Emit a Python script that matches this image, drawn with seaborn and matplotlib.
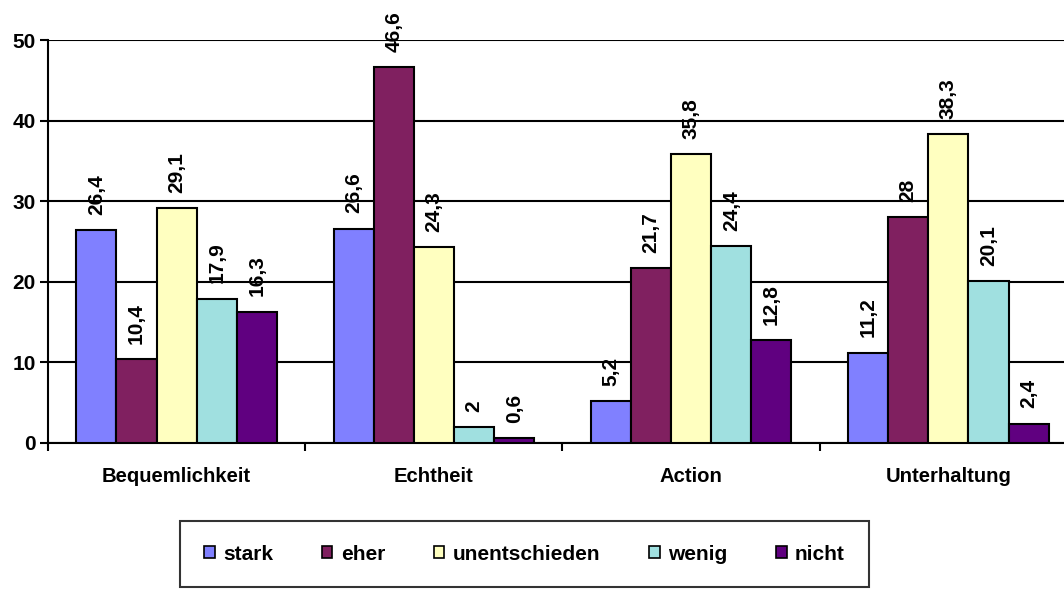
import matplotlib
matplotlib.use("Agg")
import matplotlib.pyplot as plt
import seaborn as sns
import pandas as pd
from matplotlib.patches import Patch

categories = ["Bequemlichkeit", "Echtheit", "Action", "Unterhaltung"]
series = ["stark", "eher", "unentschieden", "wenig", "nicht"]
stark = [26.4, 26.6, 5.2, 11.2]
eher = [10.4, 46.6, 21.7, 28.0]
unentschieden = [29.1, 24.3, 35.8, 38.3]
wenig = [17.9, 2.0, 24.4, 20.1]
nicht = [16.3, 0.6, 12.8, 2.4]
colors = ["#8080FF", "#802060", "#FFFFC0", "#A0E0E0", "#600080"]
yticks = [0, 10, 20, 30, 40, 50]

values = [stark, eher, unentschieden, wenig, nicht]
rows = []
for s, vals in zip(series, values):
    for c, v in zip(categories, vals):
        rows.append({"Kategorie": c, "Bewertung": s, "Wert": v})
df = pd.DataFrame(rows)

sns.set_theme(style="white")
plt.rcParams["font.family"] = ["Liberation Sans", "DejaVu Sans"]
plt.rcParams["font.weight"] = "bold"
for key in ["text.color", "axes.labelcolor", "xtick.color", "ytick.color"]:
    plt.rcParams[key] = "black"

fig = plt.figure(figsize=(10.64, 5.92), dpi=100)
ax = fig.add_axes([48 / 1064, 149 / 592, 1029 / 1064, 403 / 592])

sns.barplot(data=df, x="Kategorie", y="Wert", hue="Bewertung",
            order=categories, hue_order=series, palette=colors,
            width=0.78, gap=0, edgecolor="black", linewidth=1.5,
            saturation=1, legend=False, ax=ax, zorder=3)

ax.set_ylim(0, 50)
ax.set_xlim(-0.5, 3.5)
ax.set_yticks(yticks)
ax.set_yticklabels([str(t) for t in yticks], fontsize=15, fontweight="bold")
ax.yaxis.grid(True, color="black", linewidth=1.5, zorder=0)
ax.set_axisbelow(True)
ax.tick_params(axis="y", length=6, width=1.5, color="black", left=True, pad=3)
ax.set_xticks(range(len(categories)))
ax.set_xticklabels(categories, fontsize=14.6, fontweight="bold")
ax.tick_params(axis="x", which="major", length=0, pad=17)
ax.set_xticks([-0.5, 0.5, 1.5, 2.5, 3.5], minor=True)
ax.tick_params(axis="x", which="minor", length=6, width=1.5, color="black", bottom=True)
ax.set_xlabel("")
ax.set_ylabel("")
for side in ["top", "right"]:
    ax.spines[side].set_visible(False)
for side in ["left", "bottom"]:
    ax.spines[side].set_color("black")
    ax.spines[side].set_linewidth(1.5)

for cont in ax.containers:
    labels = [f"{v:g}".replace(".", ",") for v in cont.datavalues]
    ax.bar_label(cont, labels=labels, rotation=90, padding=11,
                 fontsize=15, fontweight="bold")

handles = [Patch(facecolor=c, edgecolor="black", linewidth=1.2) for c in colors]
leg = fig.legend(handles, series, loc="center",
                 bbox_to_anchor=(524.5 / 1064, 38 / 592),
                 ncol=5, frameon=True, fancybox=False,
                 handlelength=0.5, handleheight=0.5, handletextpad=0.4,
                 columnspacing=2.35, borderpad=1.15, borderaxespad=0,
                 prop={"size": 15, "weight": "bold"})
leg.get_frame().set_edgecolor("black")
leg.get_frame().set_linewidth(1.5)

fig.savefig("out.png", dpi=100)
